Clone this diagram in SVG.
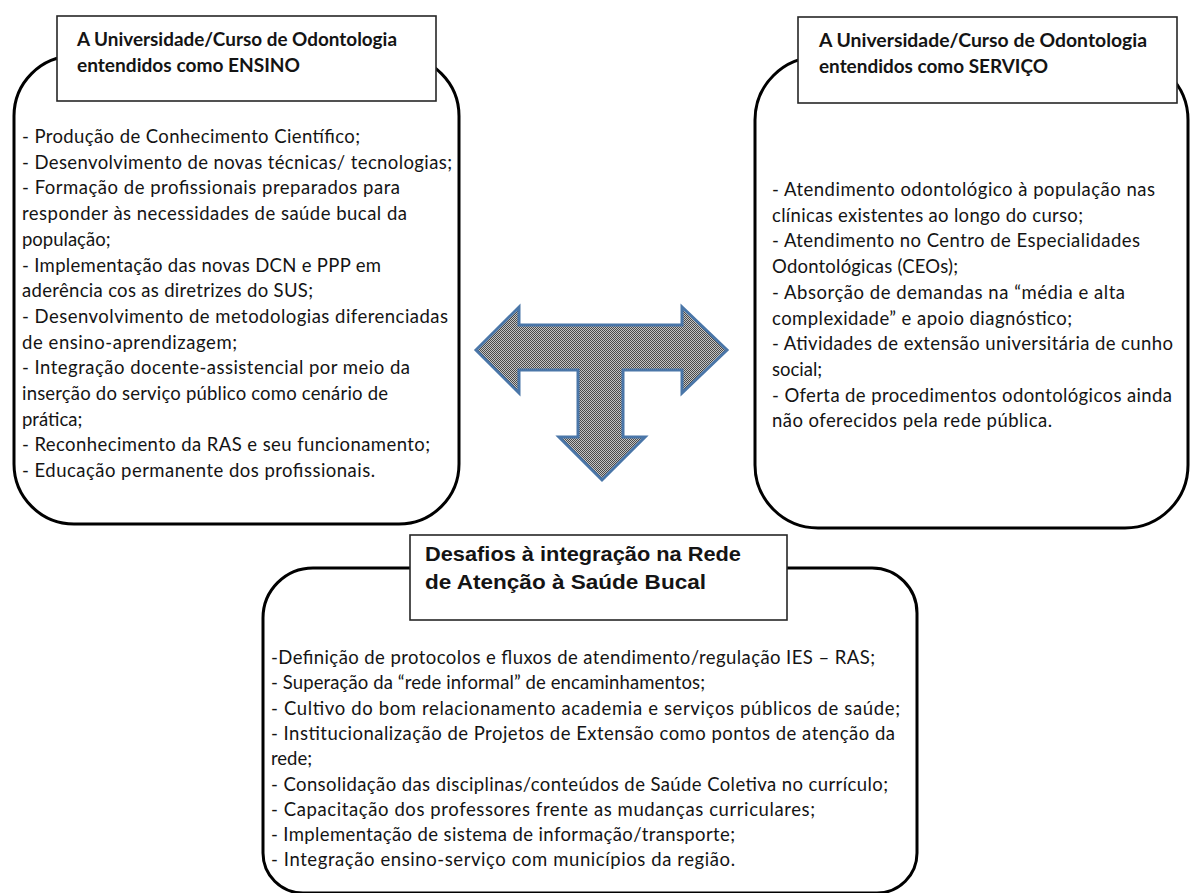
<svg xmlns="http://www.w3.org/2000/svg" width="1190" height="893" viewBox="0 0 1190 893">
<style>
.box{fill:none;stroke:#000;stroke-width:3}
.hdr{fill:#fff;stroke:#262626;stroke-width:1.6}
.t{font-family:Lato,"Liberation Sans",sans-serif;font-size:18.5px;fill:#141414}
.h{font-family:Lato,"Liberation Sans",sans-serif;font-size:18px;font-weight:bold;fill:#141414}
.hb{font-family:"Liberation Sans",Arial,sans-serif;font-size:21px;font-weight:bold;fill:#141414}
</style>
<defs>
<pattern id="dots" width="2" height="2" patternUnits="userSpaceOnUse">
<rect width="2" height="2" fill="#c4c4c4"/>
<rect width="1" height="1" fill="#4a4a4a"/>
<rect x="1" y="1" width="1" height="1" fill="#4a4a4a"/>
</pattern>
</defs>
<rect width="1190" height="893" fill="#fff"/>

<g id="ensino">
<rect class="box" x="14" y="56" width="445" height="468" rx="60" ry="60"/>
<rect class="hdr" x="57" y="16" width="379" height="85"/>
<text class="h" x="77" y="46" textLength="320" lengthAdjust="spacingAndGlyphs">A Universidade/Curso de Odontologia</text>
<text class="h" x="77" y="72" textLength="223" lengthAdjust="spacingAndGlyphs">entendidos como ENSINO</text>
<g class="t">
<text x="22" y="143" textLength="338" lengthAdjust="spacing">- Produção de Conhecimento Científico;</text>
<text x="22" y="168.7" textLength="430" lengthAdjust="spacing">- Desenvolvimento de novas técnicas/ tecnologias;</text>
<text x="22" y="194.4" textLength="378" lengthAdjust="spacing">- Formação de profissionais preparados para</text>
<text x="22" y="220.1" textLength="385" lengthAdjust="spacing">responder às necessidades de saúde bucal da</text>
<text x="22" y="245.8">população;</text>
<text x="22" y="271.5" textLength="359" lengthAdjust="spacing">- Implementação das novas DCN e PPP em</text>
<text x="22" y="297.2" textLength="291" lengthAdjust="spacing">aderência cos as diretrizes do SUS;</text>
<text x="22" y="322.9" textLength="426" lengthAdjust="spacing">- Desenvolvimento de metodologias diferenciadas</text>
<text x="22" y="348.6" textLength="215" lengthAdjust="spacing">de ensino-aprendizagem;</text>
<text x="22" y="374.3" textLength="388" lengthAdjust="spacing">- Integração docente-assistencial por meio da</text>
<text x="22" y="400" textLength="366" lengthAdjust="spacing">inserção do serviço público como cenário de</text>
<text x="22" y="425.7">prática;</text>
<text x="22" y="451.4" textLength="408" lengthAdjust="spacing">- Reconhecimento da RAS e seu funcionamento;</text>
<text x="22" y="477.1" textLength="353" lengthAdjust="spacing">- Educação permanente dos profissionais.</text>
</g>
</g>

<g id="servico">
<rect class="box" x="755" y="57" width="433" height="471" rx="63" ry="63"/>
<rect class="hdr" x="798" y="17" width="379" height="86"/>
<text class="h" x="819" y="47" textLength="328" lengthAdjust="spacingAndGlyphs">A Universidade/Curso de Odontologia</text>
<text class="h" x="819" y="73" textLength="229" lengthAdjust="spacingAndGlyphs">entendidos como SERVIÇO</text>
<g class="t">
<text x="772" y="196" textLength="383" lengthAdjust="spacing">- Atendimento odontológico à população nas</text>
<text x="772" y="221.7" textLength="311" lengthAdjust="spacing">clínicas existentes ao longo do curso;</text>
<text x="772" y="247.4" textLength="368" lengthAdjust="spacing">- Atendimento no Centro de Especialidades</text>
<text x="772" y="273.1" textLength="186" lengthAdjust="spacing">Odontológicas (CEOs);</text>
<text x="772" y="298.8" textLength="353" lengthAdjust="spacing">- Absorção de demandas na “média e alta</text>
<text x="772" y="324.5" textLength="300" lengthAdjust="spacing">complexidade” e apoio diagnóstico;</text>
<text x="772" y="350.2" textLength="401" lengthAdjust="spacing">- Atividades de extensão universitária de cunho</text>
<text x="772" y="375.9">social;</text>
<text x="772" y="401.6" textLength="400" lengthAdjust="spacing">- Oferta de procedimentos odontológicos ainda</text>
<text x="772" y="427.3" textLength="280" lengthAdjust="spacing">não oferecidos pela rede pública.</text>
</g>
</g>

<g id="desafios">
<path class="box" d="M313,568 H872 A45,45 0 0 1 917,613 V853 A40,40 0 0 1 877,893 H303 A40,40 0 0 1 263,853 V618 A50,50 0 0 1 313,568 Z"/>
<rect class="hdr" x="410" y="535" width="377" height="85"/>
<text class="hb" x="425" y="561" textLength="316" lengthAdjust="spacingAndGlyphs">Desafios à integração na Rede</text>
<text class="hb" x="425" y="589" textLength="281" lengthAdjust="spacingAndGlyphs">de Atenção à Saúde Bucal</text>
<g class="t">
<text x="271" y="664" textLength="604" lengthAdjust="spacing">-Definição de protocolos e fluxos de atendimento/regulação IES – RAS;</text>
<text x="271" y="689.3" textLength="434" lengthAdjust="spacing">- Superação da “rede informal” de encaminhamentos;</text>
<text x="271" y="714.6" textLength="629" lengthAdjust="spacing">- Cultivo do bom relacionamento academia e serviços públicos de saúde;</text>
<text x="271" y="739.9" textLength="624" lengthAdjust="spacing">- Institucionalização de Projetos de Extensão como pontos de atenção da</text>
<text x="271" y="765.2">rede;</text>
<text x="271" y="790.5" textLength="617" lengthAdjust="spacing">- Consolidação das disciplinas/conteúdos de Saúde Coletiva no currículo;</text>
<text x="271" y="815.8" textLength="544" lengthAdjust="spacing">- Capacitação dos professores frente as mudanças curriculares;</text>
<text x="271" y="841.1" textLength="464" lengthAdjust="spacing">- Implementação de sistema de informação/transporte;</text>
<text x="271" y="866.4" textLength="464" lengthAdjust="spacing">- Integração ensino-serviço com municípios da região.</text>
</g>
</g>

<g id="connectors">
<polygon id="t-arrow" points="476,350 519,307 519,325 682,325 682,307 727,350 682,393 682,370 623,370 623,437 645,437 602,480 559,437 578,437 578,370 519,370 519,393" fill="url(#dots)" stroke="#4a76a8" stroke-width="3" stroke-linejoin="miter"/>
</g>
</svg>
